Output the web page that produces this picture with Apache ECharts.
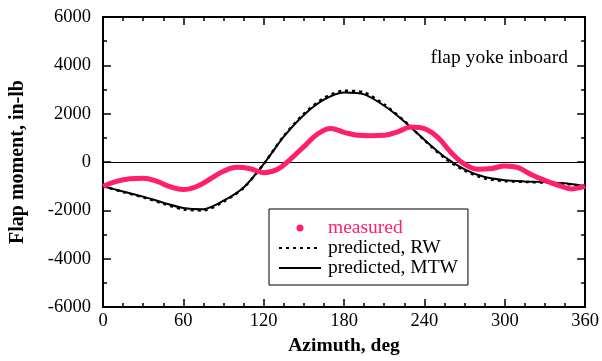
<!DOCTYPE html>
<html><head><meta charset="utf-8">
<script src="https://cdn.jsdelivr.net/npm/echarts@6/dist/echarts.min.js"></script>
<style>html,body{margin:0;padding:0;background:#fff}#c{width:602px;height:361px}</style>
</head><body><div id="c"></div>
<script>
// Data
const measuredAz = [0,10,20,30,40,50,60,70,80,90,100,110,120,130,140,150,160,170,180,190,200,210,220,230,240,250,260,270,280,290,300,310,320,330,340,350,360];
const measuredMoment = [-1000,-800,-690,-670,-790,-1020,-1140,-1010,-700,-380,-220,-280,-440,-310,120,640,1150,1390,1230,1110,1090,1110,1250,1450,1380,1020,390,-90,-300,-270,-160,-230,-530,-760,-960,-1110,-1000];
const predAz = [0,15,30,45,60,75,90,105,120,135,150,165,180,195,210,225,240,255,270,285,300,315,330,345,360];
const rwMoment = [-1000,-1240,-1460,-1720,-1960,-2000,-1640,-1070,-80,1080,2000,2650,2950,2880,2380,1700,900,170,-360,-680,-790,-820,-850,-900,-1000];
const mtwMoment = [-1000,-1220,-1430,-1680,-1900,-1950,-1600,-1050,-80,1050,1950,2580,2880,2800,2330,1680,920,220,-300,-620,-750,-800,-830,-880,-1000];
const xTicks = [0,60,120,180,240,300,360];
const yTicks = [-6000,-4000,-2000,0,2000,4000,6000];
const seriesNames = ['measured','predicted, RW','predicted, MTW'];
const titleText = 'flap yoke inboard';
const xName = 'Azimuth, deg';
const yName = 'Flap moment, in-lb';

const pink = '#ff1f6f';
const font = 'Liberation Serif';
const zip = (a,b) => a.map((v,i)=>[v,b[i]]);

function axisBase(split){
  return {
    axisLine:{show:true,onZero:false,lineStyle:{color:'#000',width:2}},
    axisTick:{show:true,inside:true,length:8,lineStyle:{color:'#000',width:1.5}},
    minorTick:{show:true,splitNumber:split,length:4,lineStyle:{color:'#000',width:1.5}},
    splitLine:{show:false}
  };
}

const chart = echarts.init(document.getElementById('c'), null, {renderer:'canvas'});
chart.setOption({
  animation:false,
  backgroundColor:'#fff',
  textStyle:{fontFamily:font},
  grid:{left:103,right:16,top:17,bottom:52},
  title:{text:titleText,right:34,top:48,padding:0,textStyle:{fontFamily:font,fontSize:19.5,fontWeight:'normal',color:'#000'}},
  legend:{
    orient:'vertical',left:269,top:209,
    padding:[9,10,7,9],itemGap:0,itemWidth:42,itemHeight:7,
    borderColor:'#000',borderWidth:1,backgroundColor:'#fff',
    textStyle:{fontFamily:font,fontSize:19.5,color:'#000',lineHeight:19.5,padding:[0,0,0,2]},
    data:[
      {name:seriesNames[0],icon:'circle',itemStyle:{color:pink},textStyle:{color:pink}},
      {name:seriesNames[1],itemStyle:{opacity:0}},
      {name:seriesNames[2],itemStyle:{opacity:0}}
    ]
  },
  xAxis:[
    Object.assign(axisBase(4),{type:'value',min:0,max:360,interval:60,position:'bottom',
      name:xName,nameLocation:'middle',nameGap:28,
      nameTextStyle:{fontFamily:font,fontSize:19.5,fontWeight:'bold',color:'#000'},
      axisLabel:{fontFamily:font,fontSize:18.5,color:'#000',margin:5,formatter:v=>String(v)}}),
    Object.assign(axisBase(4),{type:'value',min:0,max:360,interval:60,position:'top',axisLabel:{show:false}})
  ],
  yAxis:[
    Object.assign(axisBase(2),{type:'value',min:-6000,max:6000,interval:2000,position:'left',
      name:yName,nameLocation:'middle',nameGap:75,
      nameTextStyle:{fontFamily:font,fontSize:20,fontWeight:'bold',color:'#000'},
      axisLabel:{fontFamily:font,fontSize:18.5,color:'#000',margin:12,formatter:v=>String(v)}}),
    Object.assign(axisBase(2),{type:'value',min:-6000,max:6000,interval:2000,position:'right',axisLabel:{show:false}})
  ],
  series:[
    {name:seriesNames[1],type:'line',data:zip(predAz,rwMoment),smooth:0.25,symbol:'none',z:3,
      lineStyle:{color:'#000',width:2.5,type:[3,4]},itemStyle:{color:'#000'},
      markLine:{silent:true,symbol:'none',label:{show:false},lineStyle:{color:'#000',width:1,type:'solid'},data:[{yAxis:0}]}},
    {name:seriesNames[2],type:'line',data:zip(predAz,mtwMoment),smooth:0.25,symbol:'none',z:4,
      lineStyle:{color:'#000',width:2},itemStyle:{color:'#000'}},
    {name:seriesNames[0],type:'line',data:zip(measuredAz,measuredMoment),smooth:0.4,symbol:'none',z:5,
      lineStyle:{color:pink,width:5},itemStyle:{color:pink}}
  ]
});
</script></body></html>
